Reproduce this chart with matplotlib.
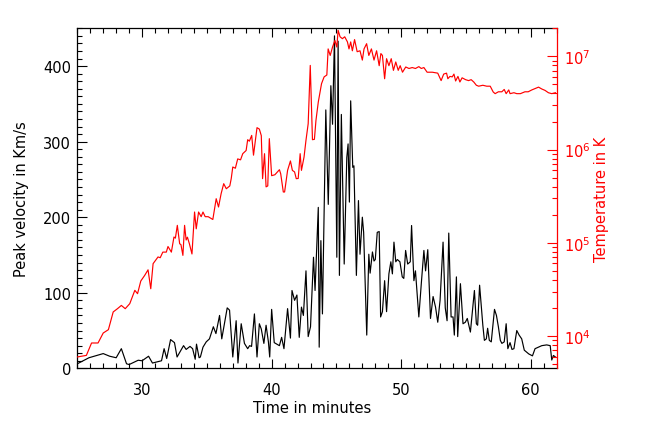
import matplotlib
matplotlib.use("Agg")
import matplotlib.pyplot as plt
import numpy as np
from matplotlib.ticker import MultipleLocator, LogLocator, NullFormatter

######################
# Data
######################

# peak velocity (km/s) vs time (minutes)
time_vel = [25.0, 25.9, 26.5, 27.0, 27.5, 28.0, 28.4, 28.8, 29.0, 29.7, 30.0, 30.5,
            30.8, 31.5, 31.7, 31.9, 32.2, 32.5, 32.7, 33.2, 33.4, 33.7, 33.9, 34.1,
            34.2, 34.4, 34.5, 34.7, 34.95, 35.2, 35.5, 35.7, 35.98, 36.15, 36.57, 36.75,
            37.0, 37.26, 37.4, 37.65, 37.9, 38.15, 38.3, 38.45, 38.67, 38.87, 39.05, 39.2,
            39.4, 39.57, 39.75, 39.85, 40.0, 40.2, 40.6, 40.77, 40.95, 41.23, 41.45, 41.57,
            41.77, 41.95, 42.13, 42.3, 42.45, 42.65, 42.82, 43.0, 43.23, 43.35, 43.6, 43.67,
            43.8, 43.92, 44.18, 44.37, 44.57, 44.7, 44.85, 45.03, 45.13, 45.23, 45.38, 45.6,
            45.8, 45.9, 46.0, 46.1, 46.26, 46.35, 46.54, 46.7, 46.82, 47.0, 47.1, 47.34,
            47.5, 47.6, 47.78, 47.9, 48.0, 48.15, 48.3, 48.41, 48.55, 48.72, 48.87, 49.05,
            49.2, 49.32, 49.44, 49.58, 49.7, 49.9, 50.08, 50.2, 50.34, 50.5, 50.7, 50.8,
            50.98, 51.1, 51.36, 51.55, 51.75, 51.88, 52.05, 52.26, 52.46, 52.65, 52.82, 53.0,
            53.23, 53.4, 53.54, 53.67, 53.85, 54.0, 54.1, 54.26, 54.36, 54.57, 54.77, 54.95,
            55.1, 55.34, 55.65, 55.8, 55.9, 56.05, 56.3, 56.42, 56.57, 56.67, 56.8, 56.95,
            57.2, 57.35, 57.5, 57.65, 57.77, 57.95, 58.1, 58.23, 58.4, 58.55, 58.7, 58.92,
            59.1, 59.3, 59.5, 59.85, 60.13, 60.33, 60.6, 60.85, 61.23, 61.5, 61.62, 61.75,
            61.9]
velocity = [6, 14, 17, 19.5, 16, 14, 26, 6, 5, 10.7, 10, 16,
            7, 10, 26, 13, 38, 34, 15, 30, 25, 29, 26, 12,
            32, 14, 15, 28, 35, 39, 55, 46, 70, 39, 80, 77,
            15, 63, 7, 59, 33, 26, 30, 29, 72, 15, 59, 52,
            33, 57, 35, 15, 78, 34, 30, 41, 26, 79, 40, 103,
            90, 97, 41, 81, 70, 129, 42, 55, 147, 103, 213, 28,
            169, 72, 342, 217, 374, 323, 440, 147, 433, 123, 336, 138,
            279, 297, 220, 354, 266, 268, 123, 222, 151, 200, 180, 44,
            151, 126, 154, 142, 144, 180, 181, 68, 75, 116, 75, 125,
            141, 125, 167, 141, 144, 141, 121, 119, 156, 138, 141, 189,
            116, 129, 68, 112, 156, 129, 157, 66, 95, 81, 61, 90,
            167, 80, 63, 179, 68, 68, 44, 121, 42, 112, 59, 61,
            66, 48, 103, 59, 57, 110, 57, 37, 39, 53, 37, 35,
            78, 70, 55, 37, 33, 35, 59, 26, 34, 25, 26, 50,
            44, 39, 24, 19, 16.5, 26, 28, 30, 31, 30, 11, 17,
            15]

# temperature (log10 K) vs time (minutes)
time_temp = [25.0, 25.7, 26.1, 26.6, 27.0, 27.4, 27.77, 28.1, 28.4, 28.7, 29.05, 29.44,
             29.65, 29.9, 30.2, 30.46, 30.67, 30.85, 31.23, 31.4, 31.6, 31.87, 32.0, 32.26,
             32.46, 32.57, 32.72, 32.9, 33.0, 33.15, 33.28, 33.4, 33.5, 33.65, 33.85, 34.05,
             34.18, 34.36, 34.56, 34.7, 34.87, 35.1, 35.46, 35.72, 35.9, 36.1, 36.3, 36.5,
             36.77, 36.88, 37.0, 37.2, 37.38, 37.6, 37.77, 38.03, 38.15, 38.28, 38.46, 38.6,
             38.87, 39.05, 39.2, 39.3, 39.45, 39.57, 39.7, 39.82, 40.0, 40.25, 40.6, 40.7,
             40.9, 41.0, 41.23, 41.45, 41.6, 41.77, 41.9, 42.05, 42.2, 42.3, 42.5, 42.65,
             42.82, 42.98, 43.15, 43.3, 43.42, 43.6, 43.85, 44.05, 44.26, 44.36, 44.52, 44.7,
             44.88, 45.03, 45.13, 45.28, 45.46, 45.64, 45.85, 45.97, 46.1, 46.23, 46.4, 46.6,
             46.82, 47.0, 47.13, 47.33, 47.5, 47.7, 47.9, 48.1, 48.3, 48.43, 48.55, 48.72,
             48.87, 49.05, 49.23, 49.4, 49.58, 49.77, 49.92, 50.1, 50.35, 50.6, 50.85, 51.1,
             51.36, 51.55, 51.75, 52.0, 52.4, 52.82, 53.08, 53.28, 53.5, 53.6, 53.76, 53.94,
             54.07, 54.2, 54.38, 54.53, 54.7, 54.97, 55.1, 55.2, 55.4, 55.6, 55.8, 55.98,
             56.3, 56.6, 56.87, 57.1, 57.25, 57.5, 57.77, 57.95, 58.1, 58.3, 58.4, 58.7,
             58.92, 59.2, 59.55, 59.8, 60.08, 60.3, 60.6, 60.85, 61.1, 61.36, 61.62, 61.9]
temp_log10 = [3.775, 3.792, 3.925, 3.925, 4.032, 4.068, 4.258, 4.293, 4.328, 4.293, 4.347, 4.49,
              4.454, 4.59, 4.65, 4.71, 4.507, 4.776, 4.848, 4.84, 4.9, 4.9, 4.96, 4.9,
              5.062, 5.05, 5.187, 4.99, 4.98, 4.865, 5.187, 5.03, 5.06, 4.99, 4.88, 5.33,
              5.15, 5.33, 5.28, 5.33, 5.28, 5.28, 5.25, 5.473, 5.384, 5.527, 5.634, 5.58,
              5.61, 5.688, 5.813, 5.8, 5.9, 5.89, 5.956, 5.99, 6.106, 6.09, 6.152, 5.94,
              6.235, 6.22, 6.15, 5.688, 5.956, 5.6, 5.61, 6.117, 5.72, 5.73, 5.784, 5.74,
              5.545, 5.545, 5.777, 5.878, 5.777, 5.76, 5.688, 5.69, 5.956, 5.777, 5.92, 6.1,
              6.278, 6.903, 6.106, 6.11, 6.313, 6.51, 6.707, 6.78, 6.8, 7.08, 7.01, 7.1,
              7.17, 7.1, 7.28, 7.21, 7.19, 7.21, 7.155, 7.08, 7.155, 7.06, 7.18, 7.05,
              7.06, 6.96, 7.08, 7.136, 7.01, 7.08, 6.96, 7.06, 6.9, 7.03, 7.01, 6.76,
              6.975, 6.9, 6.975, 6.85, 6.94, 6.85, 6.9, 6.83, 6.886, 6.87, 6.88, 6.87,
              6.89, 6.87, 6.88, 6.83, 6.83, 6.82, 6.74, 6.81, 6.82, 6.76, 6.785, 6.78,
              6.81, 6.736, 6.785, 6.725, 6.77, 6.75, 6.745, 6.74, 6.75, 6.725, 6.69, 6.68,
              6.69, 6.68, 6.68, 6.618, 6.6, 6.62, 6.62, 6.645, 6.6, 6.64, 6.6, 6.61,
              6.6, 6.6, 6.62, 6.62, 6.64, 6.653, 6.67, 6.65, 6.635, 6.61, 6.6, 6.61]

temperature = 10 ** np.array(temp_log10)

######################
# Plotting
######################

plt.rcParams['font.family'] = 'DejaVu Sans'
plt.rcParams['font.size'] = 10.5

fig = plt.figure(figsize=(6.54, 4.31), dpi=100)
ax = fig.add_axes([0.1182, 0.1431, 0.7330, 0.7889])

ax.plot(time_vel, velocity, color='black', lw=0.85)
ax.set_xlim(25, 62)
ax.set_ylim(0, 450)
ax.xaxis.set_major_locator(MultipleLocator(10))
ax.xaxis.set_minor_locator(MultipleLocator(1))
ax.yaxis.set_major_locator(MultipleLocator(100))
ax.yaxis.set_minor_locator(MultipleLocator(10))
ax.tick_params(axis='x', which='both', direction='in', top=True, pad=10)
ax.tick_params(axis='x', which='major', length=6.5, width=0.8)
ax.tick_params(axis='x', which='minor', length=3.5, width=0.8)
ax.tick_params(axis='y', which='both', direction='in', right=False, pad=4.5)
ax.tick_params(axis='y', which='major', length=7, width=0.8)
ax.tick_params(axis='y', which='minor', length=3.5, width=0.8)
ax.set_xlabel('Time in minutes')
ax.set_ylabel('Peak velocity in Km/s')
ax.xaxis.set_label_coords(0.49, -0.093)
ax.yaxis.set_label_coords(-0.10, 0.5)
ax.spines['right'].set_visible(False)
for s in ['left', 'top', 'bottom']:
    ax.spines[s].set_linewidth(0.9)

# temperature on the right, log scale
ax2 = ax.twinx()
ax2.plot(time_temp, temperature, color='red', lw=0.85)
ax2.set_yscale('log')
ax2.set_ylim(4.5e3, 2.0e7)
ax2.yaxis.set_major_locator(LogLocator(base=10))
ax2.yaxis.set_minor_locator(LogLocator(base=10, subs=np.arange(2, 10)))
ax2.yaxis.set_minor_formatter(NullFormatter())
ax2.tick_params(axis='y', which='both', direction='in', colors='red', pad=5)
ax2.tick_params(axis='y', which='major', length=7, width=0.8)
ax2.tick_params(axis='y', which='minor', length=3.5, width=0.8)
ax2.set_ylabel('Temperature in K', color='red')
ax2.yaxis.set_label_coords(1.078, 0.5)
for s in ['left', 'top', 'bottom']:
    ax2.spines[s].set_visible(False)
ax2.spines['right'].set_color('red')
ax2.spines['right'].set_linewidth(0.9)

fig.savefig('out.png', dpi=100)
